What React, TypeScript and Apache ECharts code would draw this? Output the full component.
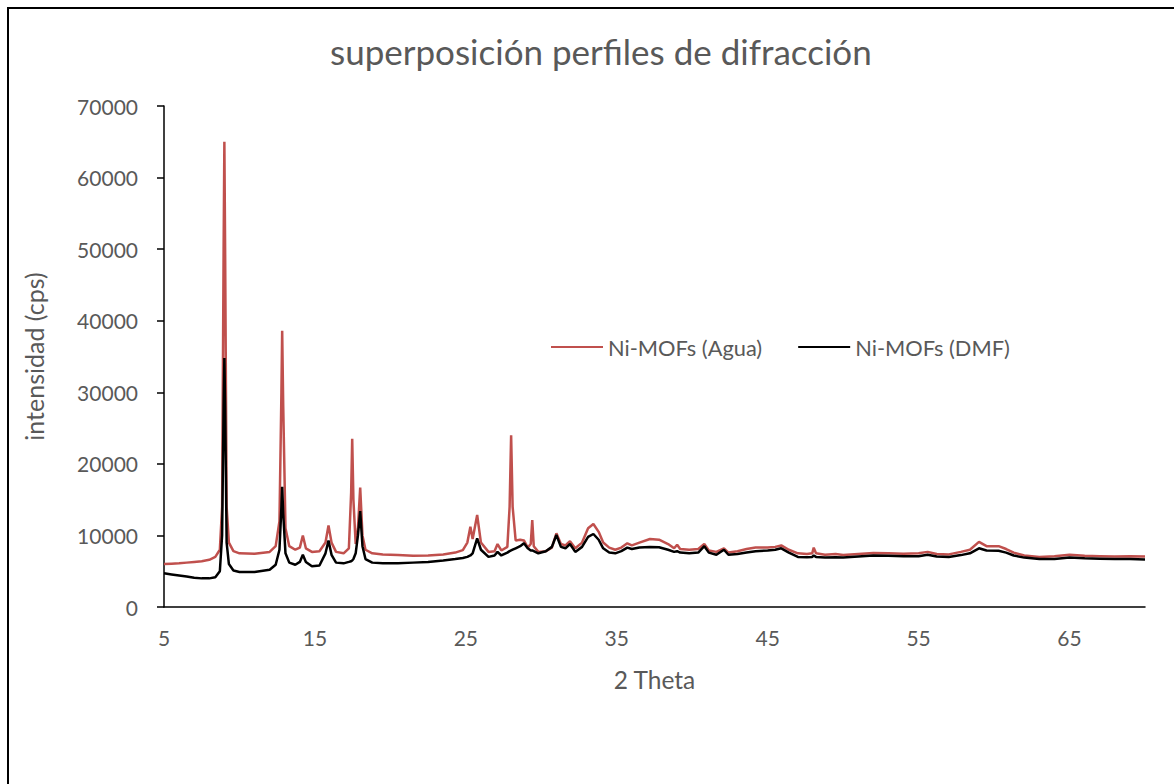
import React, { useEffect, useRef } from "react";
import * as echarts from "echarts";

// 2θ positions (degrees) shared by both diffraction profiles
const twoTheta: number[] = [
  5.0, 5.5, 6.0, 6.5, 7.0, 7.5, 8.0, 8.4, 8.7, 8.85, 8.95, 9.0, 9.05, 9.15, 9.3, 9.6,
  10.0, 11.0, 12.0, 12.4, 12.65, 12.78, 12.83, 12.9, 13.05, 13.3, 13.7, 14.0, 14.2, 14.4,
  14.8, 15.3, 15.7, 15.9, 16.1, 16.4, 16.9, 17.25, 17.4, 17.47, 17.55, 17.7, 17.85, 18.0,
  18.15, 18.35, 18.8, 19.5, 20.5, 21.5, 22.5, 23.5, 24.3, 24.8, 25.1, 25.3, 25.45, 25.75,
  26.0, 26.5, 26.9, 27.1, 27.35, 27.75, 27.9, 28.0, 28.1, 28.3, 28.6, 28.85, 29.1, 29.3,
  29.4, 29.5, 29.8, 30.3, 30.7, 31.0, 31.3, 31.6, 31.9, 32.25, 32.7, 33.1, 33.45, 33.8,
  34.1, 34.5, 34.9, 35.3, 35.7, 36.0, 36.5, 37.2, 37.8, 38.4, 38.8, 39.0, 39.2, 39.8,
  40.4, 40.8, 41.1, 41.6, 42.1, 42.4, 43.0, 43.6, 44.2, 45.0, 45.5, 45.9, 46.4, 47.0,
  47.6, 47.95, 48.05, 48.2, 48.8, 49.5, 50.0, 51.0, 52.0, 53.0, 54.0, 55.0, 55.6, 56.2,
  57.0, 57.8, 58.4, 59.0, 59.5, 60.3, 60.8, 61.3, 62.0, 63.0, 64.0, 65.0, 66.0, 67.0,
  68.0, 69.0, 70.0,
];

// Ni-MOFs synthesised in water (cps)
const aguaCps: number[] = [
  6000, 6050, 6100, 6200, 6300, 6400, 6600, 7000, 8000, 14000, 50000, 65000, 50000, 14000, 9000, 7800,
  7500, 7450, 7700, 8500, 12000, 30000, 38600, 28000, 11000, 8500, 8000, 8300, 10000, 8200,
  7700, 7800, 9000, 11400, 9000, 7700, 7500, 8200, 16000, 23500, 15000, 8800, 11000, 16700,
  10000, 8000, 7500, 7350, 7250, 7150, 7200, 7350, 7600, 7950, 9000, 11200, 9500, 12850,
  9000, 7700, 7800, 8800, 7900, 8400, 14000, 24000, 14000, 9300, 9400, 9300, 8300, 8800,
  12150, 8500, 7700, 7800, 8300, 10300, 8800, 8600, 9200, 8200, 9000, 11000, 11600, 10500,
  9000, 8300, 8000, 8300, 8900, 8600, 9000, 9500, 9400, 8800, 8200, 8700, 8100, 8000,
  8100, 8800, 7900, 7700, 8200, 7600, 7800, 8100, 8300, 8300, 8400, 8600, 8000, 7500,
  7400, 7500, 8300, 7500, 7300, 7400, 7250, 7400, 7550, 7500, 7450, 7500, 7700, 7400,
  7350, 7700, 8000, 9100, 8500, 8500, 8100, 7600, 7200, 7000, 7100, 7300, 7150, 7100,
  7050, 7100, 7050,
];

// Ni-MOFs synthesised in DMF (cps)
const dmfCps: number[] = [
  4700, 4550, 4400, 4250, 4100, 4000, 4000, 4150, 5000, 10000, 28000, 34800, 28000, 9000, 6000, 5100,
  4900, 4900, 5200, 5900, 8000, 14000, 16800, 13000, 7500, 6200, 5900, 6300, 7300, 6300,
  5700, 5800, 7500, 9300, 7300, 6200, 6100, 6300, 6400, 6500, 6700, 7500, 10000, 13400,
  8500, 6700, 6200, 6100, 6100, 6200, 6300, 6500, 6700, 6850, 7000, 7200, 7500, 9600,
  8000, 7000, 7200, 7700, 7200, 7600, 7800, 7900, 8000, 8200, 8500, 8900, 8200, 7900,
  7900, 7800, 7500, 7800, 8400, 10060, 8400, 8200, 8800, 7700, 8400, 9800, 10200, 9400,
  8200, 7600, 7500, 7800, 8300, 8100, 8300, 8400, 8350, 8000, 7700, 7800, 7600, 7500,
  7600, 8500, 7600, 7300, 8000, 7300, 7400, 7600, 7800, 7900, 8000, 8200, 7600, 7000,
  6950, 7000, 7200, 7000, 6900, 6950, 6900, 7050, 7200, 7150, 7100, 7100, 7300, 7050,
  7000, 7250, 7500, 8200, 7900, 7850, 7600, 7200, 6900, 6700, 6700, 6900, 6800, 6750,
  6700, 6700, 6650,
];

const seriesNames = ["Ni-MOFs (Agua)", "Ni-MOFs (DMF)"];
const seriesColors = ["#C0504D", "#000000"];

const FONT = "Lato, 'Open Sans', sans-serif";
const GREY = "#595959";

export default function App() {
  const ref = useRef<HTMLDivElement>(null);

  useEffect(() => {
    if (!ref.current) return;
    const chart = echarts.init(ref.current, undefined, { renderer: "svg" });
    const pairs = (ys: number[]) => twoTheta.map((x, i) => [x, ys[i]]);

    chart.setOption({
      animation: false,
      backgroundColor: "#ffffff",
      textStyle: { fontFamily: FONT },
      title: {
        text: "superposición perfiles de difracción",
        left: 325,
        top: 28,
        textStyle: { fontFamily: FONT, fontSize: 35, fontWeight: "normal", color: GREY },
      },
      legend: {
        left: 551,
        top: 336,
        padding: 0,
        itemWidth: 52,
        itemHeight: 14,
        itemGap: 36,
        icon: "path://M0,6 L52,6 L52,8 L0,8 Z",
        textStyle: { fontFamily: FONT, fontSize: 21.8, color: GREY },
        data: seriesNames,
      },
      graphic: [
        {
          type: "rect",
          shape: { x: 8, y: 8, width: 1200, height: 1000 },
          style: { fill: "none", stroke: "#000", lineWidth: 2 },
          silent: true,
        },
      ],
      grid: { left: 164, right: 29, top: 106, bottom: 177 },
      xAxis: {
        type: "value",
        min: 5,
        max: 70,
        interval: 10,
        name: "2 Theta",
        nameLocation: "middle",
        nameGap: 60,
        nameTextStyle: { fontFamily: FONT, fontSize: 24.5, color: GREY },
        axisLine: { lineStyle: { color: "#000", width: 1.5 } },
        axisTick: { show: false },
        splitLine: { show: false },
        axisLabel: {
          margin: 20,
          fontFamily: FONT,
          fontSize: 21,
          color: GREY,
          formatter: (v: number) => (v === 70 ? "" : String(v)),
        },
      },
      yAxis: {
        type: "value",
        min: 0,
        max: 70000,
        interval: 10000,
        name: "intensidad (cps)",
        nameLocation: "middle",
        nameGap: 118,
        nameTextStyle: { fontFamily: FONT, fontSize: 25, color: GREY },
        axisLine: { show: true, lineStyle: { color: "#000", width: 1.5 } },
        axisTick: { show: true, inside: false, length: 7, lineStyle: { color: "#000", width: 1.5 } },
        splitLine: { show: false },
        axisLabel: {
          margin: 26,
          fontFamily: FONT,
          fontSize: 21,
          color: GREY,
          formatter: (v: number) => String(v),
        },
      },
      series: [
        {
          name: seriesNames[0],
          type: "line",
          data: pairs(aguaCps),
          symbol: "none",
          lineStyle: { color: seriesColors[0], width: 2.5 },
          itemStyle: { color: seriesColors[0] },
          z: 2,
        },
        {
          name: seriesNames[1],
          type: "line",
          data: pairs(dmfCps),
          symbol: "none",
          lineStyle: { color: seriesColors[1], width: 2.5 },
          itemStyle: { color: seriesColors[1] },
          z: 3,
        },
      ],
    });

    return () => chart.dispose();
  }, []);

  return (
    <div
      ref={ref}
      style={{ position: "fixed", left: 0, top: 0, width: 1174, height: 784, background: "#fff" }}
    />
  );
}
